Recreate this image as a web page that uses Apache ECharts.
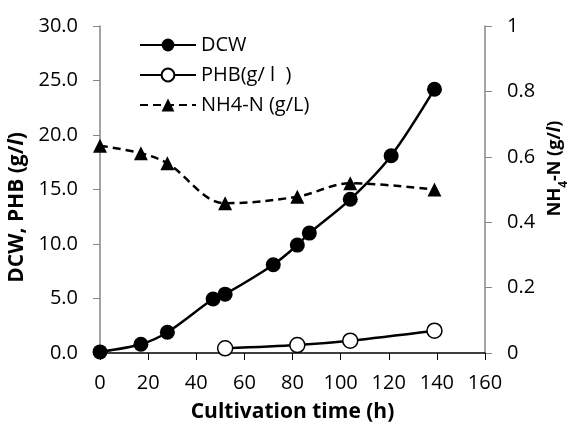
<!DOCTYPE html>
<html>
<head>
<meta charset="utf-8">
<script src="https://cdn.jsdelivr.net/npm/echarts@6/dist/echarts.min.js"></script>
<style>
  html, body { margin: 0; padding: 0; background: #fff; }
  #chart { width: 574px; height: 424px; }
</style>
</head>
<body>
<div id="chart"></div>
<script>
// cultivation time (h) and measured values
const timeDCW = [0, 17, 28, 47, 52, 72, 82, 87, 104, 121, 139];
const dcw = [0.1, 0.8, 1.9, 4.95, 5.4, 8.1, 9.9, 11.0, 14.1, 18.1, 24.2];
const timePHB = [52, 82, 104, 139];
const phb = [0.43, 0.73, 1.13, 2.05];
const timeNH4 = [0, 17, 28, 52, 82, 104, 139];
const nh4 = [0.634, 0.611, 0.58, 0.458, 0.478, 0.519, 0.5];

const pairs = (xs, ys) => xs.map((x, i) => [x, ys[i]]);
const font = "Open Sans";

const chart = echarts.init(document.getElementById("chart"));
chart.setOption({
  animation: false,
  textStyle: { fontFamily: font, color: "#000" },
  grid: { left: 100, right: 89, top: 26, bottom: 71, outerBoundsMode: "none" },
  legend: {
    orient: "vertical",
    left: 134,
    top: 30,
    itemWidth: 56,
    itemHeight: 16,
    itemGap: 10,
    textStyle: { fontFamily: font, fontSize: 20, color: "#000" },
    data: ["DCW", "PHB(g/ l  )", "NH4-N (g/L)"]
  },
  xAxis: {
    type: "value",
    min: 0,
    max: 160,
    interval: 20,
    name: "Cultivation time (h)",
    nameLocation: "middle",
    nameGap: 49,
    nameTextStyle: { fontFamily: font, fontSize: 21, fontWeight: "bold", color: "#000" },
    axisLine: { lineStyle: { color: "#000", width: 1.5 } },
    axisTick: { show: true, length: 7, lineStyle: { color: "#000" } },
    axisLabel: { fontSize: 20, color: "#000", margin: 20 },
    splitLine: { show: false }
  },
  yAxis: [
    {
      type: "value",
      min: 0,
      max: 30,
      interval: 5,
      name: "DCW, PHB (g/{i|l})",
      nameLocation: "middle",
      nameRotate: 90,
      nameGap: 70,
      nameTextStyle: {
        fontFamily: font, fontSize: 21, fontWeight: "bold", color: "#000",
        padding: [0, 36, 0, 0],
        rich: { i: { fontFamily: font, fontSize: 21, fontWeight: "bold", fontStyle: "italic" } }
      },
      axisLine: { show: true, lineStyle: { color: "#868686", width: 1.5 } },
      axisTick: { show: true, length: 7, lineStyle: { color: "#868686" } },
      axisLabel: { fontSize: 20, color: "#000", margin: 22, formatter: v => v.toFixed(1) },
      splitLine: { show: false }
    },
    {
      type: "value",
      min: 0,
      max: 1,
      interval: 0.2,
      name: "NH{s|4}-N (g/{i|l})",
      nameLocation: "middle",
      nameRotate: 90,
      nameGap: 54,
      nameTextStyle: {
        fontFamily: font, fontSize: 18, fontWeight: "bold", color: "#000",
        padding: [0, 0, 0, 42],
        rich: {
          s: { fontFamily: font, fontSize: 12, fontWeight: "bold", verticalAlign: "bottom", padding: [0, 0, -6, 0] },
          i: { fontFamily: font, fontSize: 18, fontWeight: "bold", fontStyle: "italic" }
        }
      },
      axisLine: { show: true, lineStyle: { color: "#868686", width: 1.5 } },
      axisTick: { show: true, length: 7, lineStyle: { color: "#868686" } },
      axisLabel: { fontSize: 20, color: "#000", margin: 22, formatter: v => String(+v.toFixed(1)) },
      splitLine: { show: false }
    }
  ],
  series: [
    {
      name: "DCW",
      type: "line",
      yAxisIndex: 0,
      data: pairs(timeDCW, dcw),
      smooth: 0.3,
      symbol: "circle",
      symbolSize: 15,
      itemStyle: { color: "#000" },
      lineStyle: { color: "#000", width: 2.5 },
      z: 3
    },
    {
      name: "PHB(g/ l  )",
      type: "line",
      yAxisIndex: 0,
      data: pairs(timePHB, phb),
      smooth: 0.3,
      symbol: "circle",
      symbolSize: 15,
      itemStyle: { color: "#fff", borderColor: "#000", borderWidth: 1.5 },
      lineStyle: { color: "#000", width: 2.5 },
      z: 3
    },
    {
      name: "NH4-N (g/L)",
      type: "line",
      yAxisIndex: 1,
      data: pairs(timeNH4, nh4),
      smooth: 0.35,
      symbol: "triangle",
      symbolSize: 14,
      itemStyle: { color: "#000" },
      lineStyle: { color: "#000", width: 2.5, type: [8, 5] },
      z: 2
    }
  ]
});
</script>
</body>
</html>
